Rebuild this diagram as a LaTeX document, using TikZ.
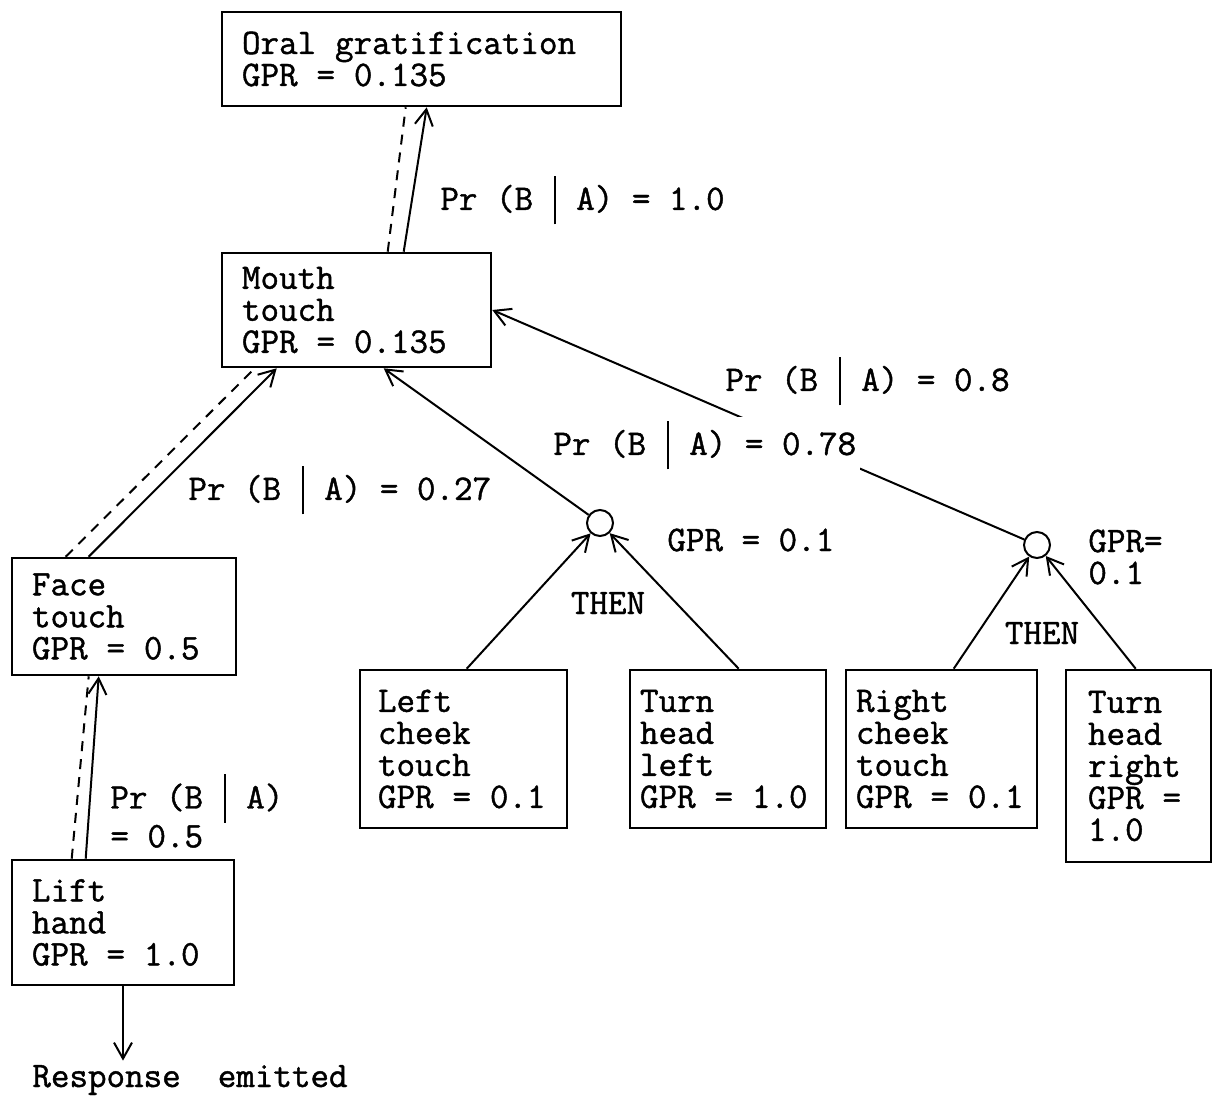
\documentclass[tikz,border=0pt]{standalone}
\usepackage{fontspec}
\setmonofont{Latin Modern Mono}[WordSpace={1,0,0}, FakeBold=1.2]
\usetikzlibrary{arrows.meta, calc}
\newcommand{\cbar}{\makebox[1.2em]{\rule[-0.4em]{0.9pt}{1.35em}}}

\begin{document}
\begin{tikzpicture}[
  x=0.5pt, y=-0.5pt,
  font=\ttfamily\fontsize{18}{16}\selectfont,
  box/.style={draw, line width=1.3pt, align=flush left, inner ysep=0pt,
              execute at begin node={\spaceskip=0.525em\relax}},
  tag/.style={inner sep=0pt, anchor=west, align=left},
  junction/.style={circle, draw, line width=1pt, minimum size=13pt, inner sep=0pt},
  arr/.style={line width=1pt, -{Straight Barb[length=8pt, width=9pt]}},
  dsh/.style={line width=1pt, dash pattern=on 5pt off 4pt},
  ]
\useasboundingbox (0,0) rectangle (1213,1097);

% behaviour boxes
\node[box, text width=179.5pt, minimum height=47pt, inner xsep=10pt] (oral) at (421.5,59) {Oral gratification\\GPR = 0.135};
\node[box, text width=114.5pt, minimum height=57pt, inner xsep=10pt] (mouth) at (356.5,310) {Mouth\\touch\\GPR = 0.135};
\node[box, text width=92pt, minimum height=58.5pt, inner xsep=10pt] (face) at (124,616.5) {Face\\touch\\GPR = 0.5};
\node[box, text width=91pt, minimum height=62.5pt, inner xsep=10pt] (lift) at (123,922.5) {Lift\\hand\\GPR = 1.0};
\node[box, text width=85.5pt, minimum height=79pt, inner xsep=9pt] (lcheek) at (463.5,749) {Left\\cheek\\touch\\GPR = 0.1};
\node[box, text width=88pt, minimum height=79pt, inner xsep=5pt] (tleft) at (728,749) {Turn\\head\\left\\GPR = 1.0};
\node[box, text width=85.5pt, minimum height=79pt, inner xsep=5pt] (rcheek) at (941.5,749) {Right\\cheek\\touch\\GPR = 0.1};
\node[box, text width=50.5pt, minimum height=96pt, inner xsep=11pt] (tright) at (1138.5,766) {Turn\\head\\right\\GPR =\\1.0};

% THEN junctions
\node[junction] (c1) at (600,523) {};
\node[junction] (c2) at (1037,545) {};

\node[tag] (resp) at (32,1080) {Response\ \ emitted};

% links
\draw[arr] ($(mouth.north west)+(183,0)$) -- ($(oral.south west)+(206,0)$);
\draw[dsh] ($(mouth.north west)+(167,0)$) -- ($(oral.south west)+(185,0)$);
\draw[arr] ($(face.north west)+(78,0)$) -- ($(mouth.south west)+(56,0)$);
\draw[dsh] ($(face.north west)+(55,0)$) -- ($(mouth.south west)+(34,0)$);
\draw[arr] ($(lift.north west)+(75,0)$) -- ($(face.south west)+(88,0)$);
\draw[dsh] ($(lift.north west)+(61,0)$) -- ($(face.south west)+(78,0)$);
\draw[arr, shorten >=2pt] (lift.south) -- (lift.south |- resp.north);

\draw[arr] (c1) -- ($(mouth.south west)+(163,0)$);
\draw[arr] ($(lcheek.north west)+(108,0)$) -- (c1);
\draw[arr] ($(tleft.north west)+(110,0)$) -- (c1);
\draw[arr] (c2) -- (mouth.east);
\draw[arr] ($(rcheek.north west)+(109,0)$) -- (c2);
\draw[arr] ($(tright.north west)+(71,0)$) -- (c2);

% probabilities
\node[tag] (p1) at (440,200) {Pr (B\cbar A) = 1.0};
\node[tag] (p2) at (725,381) {Pr (B\cbar A) = 0.8};
\node[tag, fill=white, inner sep=2pt] (p3) at (549,445) {Pr (B\cbar A) = 0.78};
\node[tag] (p4) at (188,490) {Pr (B\cbar A) = 0.27};
\node[tag] (p5) at (110,811) {Pr (B\cbar A)\\= 0.5};
\node[tag] (g1) at (667,540) {GPR = 0.1};
\node[tag] (g2) at (1088,557) {GPR=\\0.1};
\node (t1) at (608,603) {THEN};
\node (t2) at (1042,633) {THEN};
\end{tikzpicture}
\end{document}
